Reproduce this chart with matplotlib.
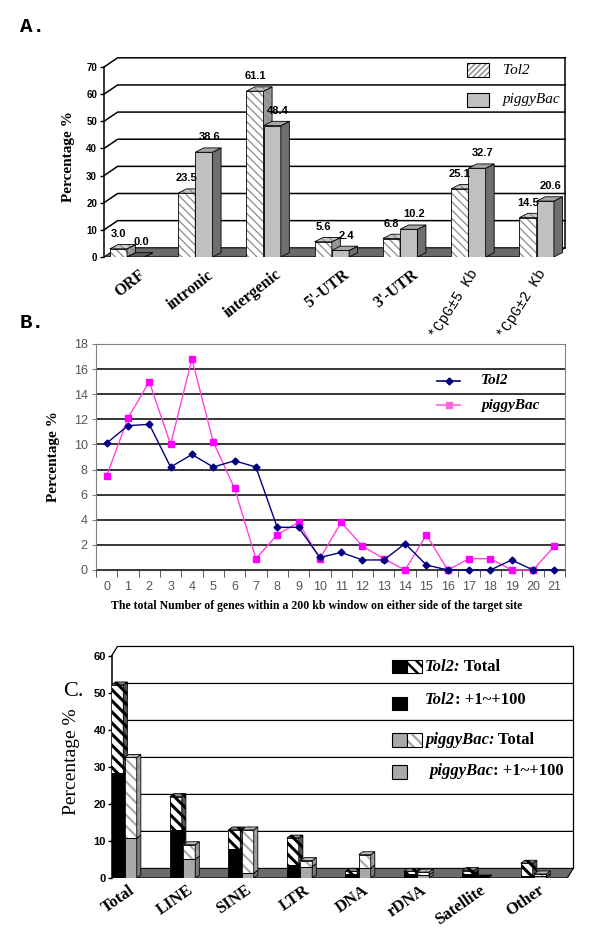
import matplotlib
matplotlib.use("Agg")
import matplotlib.pyplot as plt
import numpy as np
from matplotlib.patches import Polygon, Rectangle
from matplotlib.lines import Line2D
from matplotlib.transforms import offset_copy

W, H = 600, 932
SERIF = ["Liberation Serif", "DejaVu Serif"]
SANS = ["Liberation Sans", "DejaVu Sans"]
NARROW = ["Liberation Sans Narrow", "Liberation Sans", "DejaVu Sans"]
MONO = ["Liberation Mono", "DejaVu Sans Mono"]

# ---- panel A: integration site distribution
a_cats = ["ORF", "intronic", "intergenic", "5'-UTR", "3'-UTR",
          "*CpG\u00b15 Kb", "*CpG\u00b12 Kb"]
a_tol2 = [3.0, 23.5, 61.1, 5.6, 6.8, 25.1, 14.5]
a_pb = [0.0, 38.6, 48.4, 2.4, 10.2, 32.7, 20.6]
a_yticks = [0, 10, 20, 30, 40, 50, 60, 70]

# ---- panel B: number of genes within 200 kb window
b_genes = list(range(22))
b_tol2 = [10.1, 11.5, 11.6, 8.2, 9.2, 8.2, 8.7, 8.2, 3.4, 3.4, 1.0,
          1.4, 0.8, 0.8, 2.1, 0.4, 0.0, 0.0, 0.0, 0.8, 0.0, 0.0]
b_pb = [7.5, 12.1, 15.0, 10.0, 16.8, 10.2, 6.5, 0.9, 2.8, 3.8, 0.9,
        3.8, 1.9, 0.9, 0.0, 2.8, 0.0, 0.9, 0.9, 0.0, 0.0, 1.9]

# ---- panel C: repeats
c_cats = ["Total", "LINE", "SINE", "LTR", "DNA", "rDNA", "Satellite", "Other"]
c_tol2_total = [52.2, 22.0, 13.0, 10.8, 1.8, 1.8, 2.0, 4.0]
c_tol2_near = [28.3, 13.0, 7.9, 3.6, 1.1, 1.0, 1.2, 0.5]
c_pb_total = [32.6, 9.0, 13.0, 4.7, 6.3, 1.6, 0.0, 1.1]
c_pb_near = [10.8, 5.1, 1.3, 3.1, 2.7, 0.9, 0.0, 0.5]
c_yticks = [0, 10, 20, 30, 40, 50, 60]

fig = plt.figure(figsize=(W / 100, H / 100), dpi=100)


def axes_px(l, t, r, b):
    return fig.add_axes([l / W, 1 - b / H, (r - l) / W, (b - t) / H])


def fpt(x, y):
    return (x / W, 1 - y / H)


def _poly(ax, pts, fc, hatch=None, hc=None, hlw=1.0, z=3, lw=0.6):
    if hatch:
        p = Polygon(pts, closed=True, facecolor=fc, edgecolor=hc, lw=0,
                    hatch=hatch, zorder=z)
        if hasattr(p, "set_hatch_linewidth"):
            p.set_hatch_linewidth(hlw)
        ax.add_patch(p)
        fc = "none"
    ax.add_patch(Polygon(pts, closed=True, facecolor=fc, edgecolor="black",
                         lw=lw, zorder=z))


def box3d(ax, x, y0, y1, w, dx, dy, face, side, top=None, hatch=None,
          hc=None, hlw=1.0, z=3):
    xl, xr = x - w / 2, x + w / 2
    _poly(ax, [(xl, y0), (xr, y0), (xr, y1), (xl, y1)], face, hatch, hc, hlw, z)
    _poly(ax, [(xr, y0), (xr + dx, y0 + dy), (xr + dx, y1 + dy), (xr, y1)],
          side, hatch, hc, hlw, z)
    if top is not None:
        _poly(ax, [(xl, y1), (xr, y1), (xr + dx, y1 + dy), (xl + dx, y1 + dy)],
              top, hatch, hc, hlw, z)


def frame3d(ax, x0, xr, fdx, fdy, ticks, floor_c, glw, gcol="black"):
    ax.add_patch(Polygon([(x0, 0), (xr - fdx, 0), (xr, fdy), (x0 + fdx, fdy)],
                         closed=True, fc=floor_c, ec="black", lw=0.8, zorder=1))
    for v in ticks[1:]:
        ax.plot([x0, x0 + fdx, xr], [v, v + fdy, v + fdy], color=gcol, lw=glw,
                zorder=0.5, clip_on=False)
    ax.plot([xr, xr], [fdy, ticks[-1] + fdy], color="black", lw=glw,
            zorder=0.5, clip_on=False)
    for s in ["top", "right", "bottom"]:
        ax.spines[s].set_visible(False)
    ax.spines["left"].set_bounds(ticks[0], ticks[-1])
    ax.spines["left"].set_linewidth(1.1)
    ax.set_xticks([])
    ax.set_yticks(ticks)


# ================= A =================
fig.text(*fpt(20, 26), "A.", family=MONO, fontweight="bold", fontsize=15,
         va="center")
axA = axes_px(104, 57, 566, 257)
axA.set_xlim(-0.337, 6.43)
axA.set_ylim(0, 73.7)
axA.patch.set_visible(False)
frame3d(axA, -0.337, 6.42, 0.2, 3.4, a_yticks, "#6a6a6a", 1.1)
axA.tick_params(axis="y", length=3, width=1, pad=2)
for lab in axA.get_yticklabels():
    lab.set_family(NARROW); lab.set_fontweight("bold"); lab.set_fontsize(7)
axA.set_ylabel("Percentage %", family=SERIF, fontweight="bold", fontsize=11,
               labelpad=8)

wA, bdx, bdy = 0.253, 0.125, 1.6
for i, (t, p) in enumerate(zip(a_tol2, a_pb)):
    box3d(axA, i - wA / 2, 0, t, wA, bdx, bdy, "white", "#9a9a9a", "#c8c8c8",
          hatch="\\\\\\\\", hc="#8a8a8a", hlw=0.9, z=3 + i)
    box3d(axA, i + wA / 2, 0, p, wA, bdx, bdy, "#c0c0c0", "#6e6e6e",
          "#a6a6a6" if p > 0 else "#5a5a5a", z=3 + i)
    axA.annotate(f"{t:.1f}", (i - wA / 2, t + bdy), xytext=(0, 4),
                 textcoords="offset points", ha="center", va="bottom",
                 family=NARROW, fontweight="bold", fontsize=8, zorder=20)
    axA.annotate(f"{p:.1f}", (i + wA / 2, p + bdy), xytext=(4, 4),
                 textcoords="offset points", ha="center", va="bottom",
                 family=NARROW, fontweight="bold", fontsize=8, zorder=20)

trA = offset_copy(axA.get_xaxis_transform(), fig=fig, x=8, y=-7, units="points")
trA2 = offset_copy(axA.get_xaxis_transform(), fig=fig, x=0, y=-7, units="points")
for i, c in enumerate(a_cats):
    if c.startswith("*"):
        axA.text(i, 0, c, transform=trA2, rotation=58, ha="right", va="top",
                 rotation_mode="anchor", family=MONO, fontsize=10.5)
    else:
        axA.text(i, 0, c, transform=trA, rotation=38, ha="right", va="top",
                 rotation_mode="anchor", family=SERIF, fontweight="bold",
                 fontsize=11.5)

# legend A
for (l, t, r, b), kw, name, ty in [
        ((467, 63, 489, 77), dict(fc="white", hatch="//////", ec="#8a8a8a"), "Tol2", 71),
        ((467, 93, 489, 107), dict(fc="#c0c0c0"), "piggyBac", 100)]:
    rect = Rectangle(fpt(l, b), (r - l) / W, (b - t) / H,
                     transform=fig.transFigure, lw=0, **kw)
    fig.add_artist(rect)
    fig.add_artist(Rectangle(fpt(l, b), (r - l) / W, (b - t) / H,
                             transform=fig.transFigure, fc="none", ec="black",
                             lw=0.8))
    fig.text(*fpt(503, ty), name, family=SERIF, style="italic", fontsize=11,
             va="center")

# ================= B =================
fig.text(*fpt(20, 322), "B.", family=MONO, fontweight="bold", fontsize=15,
         va="center")
axB = axes_px(96, 344, 565, 570)
axB.plot(b_genes, b_tol2, color="#000080", marker="D", ms=3.5, lw=1,
         zorder=4, clip_on=False)
axB.plot(b_genes, b_pb, color="#ff44dd", marker="s", ms=4.5, mfc="#ff00ff",
         mec="#ff00ff", lw=1, zorder=3, clip_on=False)
axB.set_xlim(-0.5, 21.5)
axB.set_ylim(0, 18)
axB.set_yticks(range(0, 19, 2))
axB.set_xticks(b_genes)
axB.set_xticks(np.arange(-0.5, 22, 1), minor=True)
axB.grid(axis="y", color="black", lw=1.1)
axB.set_axisbelow(True)
for s in axB.spines.values():
    s.set_color("#808080")
axB.spines["bottom"].set_color("#404040")
axB.tick_params(axis="x", which="major", length=0, pad=8, labelsize=9,
                labelcolor="#555555")
axB.tick_params(axis="x", which="minor", length=5, color="#404040")
axB.tick_params(axis="y", length=3, color="#808080", labelsize=9,
                labelcolor="#555555", pad=3)
for lab in axB.get_xticklabels() + axB.get_yticklabels():
    lab.set_family(SANS)
axB.set_ylabel("Percentage %", family=SERIF, fontweight="bold", fontsize=11,
               labelpad=10)
fig.text(*fpt(317, 606), "The total Number of genes within a 200 kb window on "
         "either side of the target site", family=SERIF, fontweight="bold",
         fontsize=8.5, ha="center", va="center")
for y, col, mk, ms, name in [(381, "#000080", "D", 3.5, "Tol2"),
                             (405, "#ff66dd", "s", 4, "piggyBac")]:
    fig.add_artist(Line2D([437 / W, 460 / W], [1 - y / H] * 2, color=col, lw=1.2,
                          transform=fig.transFigure))
    fig.add_artist(Line2D([448.5 / W], [1 - y / H], color=col, marker=mk,
                          ms=ms, transform=fig.transFigure))
    fig.text(*fpt(481, y), name, family=SERIF, style="italic",
             fontweight="bold", fontsize=11, va="center")

# ================= C =================
fig.text(*fpt(63, 692), "C.", family=SERIF, fontsize=16, va="center")
axC = axes_px(111.5, 645, 575, 878)
axC.set_xlim(-0.214, 7.71)
axC.set_ylim(0, 63)
axC.patch.set_visible(False)
frame3d(axC, -0.214, 7.68, 0.1, 2.6, c_yticks, "#6b6b6b", 0.9)
axC.tick_params(axis="y", length=3, width=1, pad=1)
for lab in axC.get_yticklabels():
    lab.set_family(NARROW); lab.set_fontweight("bold"); lab.set_fontsize(8)
axC.set_ylabel("Percentage %", family=SERIF, fontsize=14, labelpad=10)

wC, cdx, cdy, off = 0.205, 0.07, 0.8, 0.115
for i in range(len(c_cats)):
    z = 3 + i
    tt, tn = c_tol2_total[i], c_tol2_near[i]
    pt, pn = c_pb_total[i], c_pb_near[i]
    x = i - off
    box3d(axC, x, 0, tn, wC, cdx, cdy, "black", "black", z=z)
    box3d(axC, x, tn, tt, wC, cdx, cdy, "white", "#555555", "#888888",
          hatch="\\\\\\", hc="black", hlw=2.2, z=z)
    x = i + off
    if pt > 0:
        box3d(axC, x, 0, pn, wC, cdx, cdy, "#a8a8a8", "#7a7a7a", z=z)
        box3d(axC, x, pn, pt, wC, cdx, cdy, "white", "#9a9a9a", "#c0c0c0",
              hatch="\\\\\\", hc="#aaaaaa", hlw=1.5, z=z)
    else:
        box3d(axC, x, 0, 0, wC, cdx, cdy, "black", "black", "black", z=z)

trC = offset_copy(axC.get_xaxis_transform(), fig=fig, x=3, y=-3, units="points")
for i, c in enumerate(c_cats):
    axC.text(i, 0, c, transform=trC, rotation=35, ha="right", va="top",
             rotation_mode="anchor", family=SERIF, fontweight="bold",
             fontsize=12)


# legend C
def leg_box(l, t, r, b, left_fc, right_kw=None):
    mid = (l + r) / 2 if right_kw else r
    fig.add_artist(Rectangle(fpt(l, b), (mid - l) / W, (b - t) / H,
                             transform=fig.transFigure, fc=left_fc, ec="black",
                             lw=0.8))
    if right_kw:
        p = Rectangle(fpt(mid, b), (r - mid) / W, (b - t) / H,
                      transform=fig.transFigure, lw=0, **right_kw)
        if hasattr(p, "set_hatch_linewidth"):
            p.set_hatch_linewidth(1.8)
        fig.add_artist(p)
        fig.add_artist(Rectangle(fpt(mid, b), (r - mid) / W, (b - t) / H,
                                 transform=fig.transFigure, fc="none",
                                 ec="black", lw=0.8))


def leg_text(x, y, ital, rest):
    t = fig.text(*fpt(x, y), ital, family=SERIF, style="italic",
                 fontweight="bold", fontsize=12, va="center")
    axC.annotate(rest, xy=(1, 0), xycoords=t, va="bottom", ha="left",
                 family=SERIF, fontweight="bold", fontsize=12,
                 annotation_clip=False)


leg_box(392, 660, 422, 673, "black", dict(fc="white", hatch="\\\\\\", ec="black"))
leg_text(425, 667, "Tol2:", " Total")
leg_box(392, 697, 407, 710, "black")
leg_text(425, 700, "Tol2", ": +1~+100")
leg_box(392, 733, 422, 747, "#a8a8a8", dict(fc="white", hatch="\\\\\\", ec="#aaaaaa"))
leg_text(425, 740, "piggyBac:", " Total")
leg_box(392, 765, 407, 779, "#a8a8a8")
leg_text(429, 771, "piggyBac", ": +1~+100")

fig.savefig("out.png", dpi=100)
